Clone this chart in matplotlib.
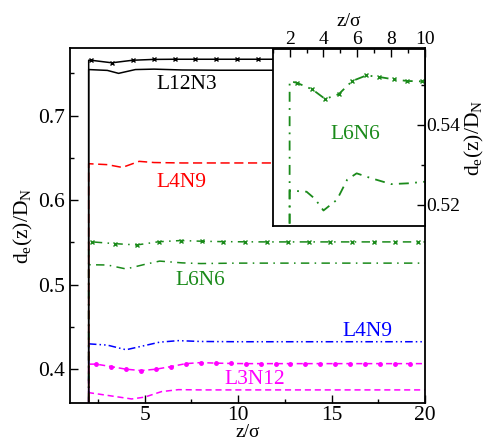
import matplotlib
matplotlib.use("Agg")
import matplotlib.pyplot as plt
from matplotlib.ticker import MultipleLocator

plt.rcParams['font.family'] = ['Liberation Serif', 'DejaVu Serif']
plt.rcParams['mathtext.fontset'] = 'custom'
plt.rcParams['mathtext.rm'] = 'Liberation Serif'

# L12N3 (black): crossed curve and plain curve
z_l12_x = [2.0, 2.0, 2.13, 3.24, 4.35, 5.48, 6.6, 7.7, 8.8, 9.95, 11.05, 12.2, 14.0, 16.0, 18.0, 20.0]
d_l12_x = [0.0, 0.7655, 0.7655, 0.7625, 0.7655, 0.7665, 0.7667, 0.7667, 0.7667, 0.7667, 0.7667,
           0.7667, 0.7667, 0.7667, 0.7667, 0.7667]
z_l12 = [2.0, 2.0, 3.0, 3.6, 4.5, 5.5, 7.0, 9.0, 12.0, 20.0]
d_l12 = [0.0, 0.7545, 0.7535, 0.7500, 0.7545, 0.7550, 0.7540, 0.7537, 0.7537, 0.7537]

# L4N9 (red, dashed)
z_l4r = [2.0, 2.0, 3.0, 3.8, 4.7, 5.5, 7.0, 9.0, 12.0, 15.0, 20.0]
d_l4r = [0.0, 0.6431, 0.6420, 0.6387, 0.6459, 0.6445, 0.6440, 0.6440, 0.6440, 0.6440, 0.6440]

# L6N6 (green): crossed and plain dash-dot
z_l6_x = [2.0, 2.0, 2.2, 3.42, 4.58, 5.75, 6.92, 8.05, 9.2, 10.36, 11.52, 12.65, 13.78, 14.93,
          16.1, 17.25, 18.38, 19.63, 20.0]
d_l6_x = [0.0, 0.5506, 0.5506, 0.5485, 0.5470, 0.5508, 0.5522, 0.5514, 0.5509, 0.5507, 0.5506,
          0.5506, 0.5506, 0.5506, 0.5506, 0.5506, 0.5506, 0.5506, 0.5506]
z_l6 = [2.0, 2.0, 3.0, 4.0, 5.0, 5.8, 7.0, 8.0, 10.0, 12.0, 14.0, 16.0, 18.0, 20.0]
d_l6 = [0.0, 0.5236, 0.5233, 0.5186, 0.5240, 0.5279, 0.5258, 0.5250, 0.5255, 0.5255, 0.5255,
        0.5255, 0.5255, 0.5255]

# L4N9 (blue, dash-dot-dot)
z_l4b = [2.0, 2.0, 3.0, 4.0, 5.0, 5.8, 6.8, 8.0, 10.0, 12.0, 14.0, 16.0, 18.0, 20.0]
d_l4b = [0.0, 0.4300, 0.4285, 0.4230, 0.4280, 0.4320, 0.4338, 0.4328, 0.4325, 0.4325, 0.4325,
         0.4325, 0.4325, 0.4325]

# L3N12 (magenta): dotted-marker curve and plain dashed
z_l3_o = [2.0, 2.0, 2.4, 3.2, 4.0, 4.8, 5.6, 6.4, 7.2, 8.0, 8.8, 9.6, 10.4, 11.2, 12.0, 12.8,
          13.6, 14.4, 15.2, 16.0, 16.8, 17.6, 18.4, 19.2, 20.0]
d_l3_o = [0.0, 0.4060, 0.4060, 0.4031, 0.4000, 0.3984, 0.4000, 0.4031, 0.4066, 0.4078, 0.4072,
          0.4068, 0.4066, 0.4066, 0.4066, 0.4066, 0.4066, 0.4066, 0.4066, 0.4066, 0.4066,
          0.4066, 0.4066, 0.4066, 0.4066]
z_l3 = [2.0, 2.0, 3.2, 4.3, 5.0, 5.9, 6.8, 8.0, 10.0, 12.0, 14.0, 16.0, 18.0, 20.0]
d_l3 = [0.0, 0.3723, 0.3684, 0.3648, 0.3670, 0.3735, 0.3758, 0.3755, 0.3755, 0.3755, 0.3755,
        0.3755, 0.3755, 0.3755]

# zoomed L6N6 curves for the inset
z_in_x = [2.0, 2.0, 2.45, 3.34, 4.1, 4.9, 5.7, 6.54, 7.3, 8.16, 8.96, 9.85, 10.0]
d_in_x = [0.0, 0.5510, 0.5505, 0.5489, 0.5465, 0.5477, 0.5510, 0.5524, 0.5520, 0.5514, 0.5510,
          0.5509, 0.5509]
z_in = [2.0, 2.0, 3.0, 3.5, 4.0, 4.8, 5.4, 5.96, 6.8, 8.0, 9.0, 10.0]
d_in = [0.0, 0.5236, 0.5233, 0.5215, 0.5186, 0.5213, 0.5263, 0.5279, 0.5267, 0.5252, 0.5254,
        0.5258]

green = '#1a8a1a'
magenta = '#ff00ff'
lw = 1.1
dashdot = (5.5, 3.5, 1, 3.5)
fs = 15.5
ylab = r'd$_\mathrm{e}$(z)/D$_\mathrm{N}$'

fig = plt.figure(figsize=(4.95, 4.42), dpi=100)
ax = fig.add_axes([0.1414, 0.0882, 0.7172, 0.8032])

ax.plot(z_l3, d_l3, color=magenta, lw=lw, dashes=(4, 2.5))
ax.plot(z_l3_o, d_l3_o, color=magenta, lw=lw, dashes=(4, 2.5), marker='o', ms=2.5,
        markevery=slice(2, -1))
ax.plot(z_l4b, d_l4b, color='blue', lw=lw, dashes=(5, 2, 1, 2, 1, 2))
ax.plot(z_l6, d_l6, color=green, lw=lw, dashes=dashdot)
ax.plot(z_l6_x, d_l6_x, color=green, lw=lw, dashes=dashdot, marker='x', ms=3.5,
        markevery=slice(2, -1))
ax.plot(z_l4r, d_l4r, color='red', lw=lw, dashes=(6, 3))
ax.plot(z_l12, d_l12, color='black', lw=lw)
ax.plot(z_l12_x, d_l12_x, color='black', lw=lw, marker='x', ms=3.5, markevery=slice(2, None))

ax.text(7.26, 0.737, 'L12N3', color='black', fontsize=fs, ha='center', va='center')
ax.text(6.94, 0.621, 'L4N9', color='red', fontsize=fs, ha='center', va='center')
ax.text(8.0, 0.5045, 'L6N6', color=green, fontsize=fs, ha='center', va='center')
ax.text(16.9, 0.4446, 'L4N9', color='blue', fontsize=fs, ha='center', va='center')
ax.text(10.9, 0.388, 'L3N12', color=magenta, fontsize=fs, ha='center', va='center')

ax.set_xlim(1, 20)
ax.set_ylim(0.36, 0.78)
ax.xaxis.set_major_locator(MultipleLocator(5))
ax.xaxis.set_minor_locator(MultipleLocator(2.5))
ax.yaxis.set_major_locator(MultipleLocator(0.1))
ax.yaxis.set_minor_locator(MultipleLocator(0.05))
ax.tick_params(which='both', direction='in', top=False, right=False, labelsize=fs, width=1)
ax.tick_params(axis='x', pad=2)
ax.tick_params(which='major', length=6)
ax.tick_params(which='minor', length=3)
for s in ax.spines.values():
    s.set_linewidth(1.3)
ax.set_xlabel('z/σ', fontsize=14, labelpad=-0.5)
ax.set_ylabel(ylab, fontsize=fs, labelpad=2)

# inset with the L6N6 curves
ins = fig.add_axes([0.5509, 0.4894, 0.3077, 0.3997])
ins.plot(z_in, d_in, color=green, lw=1.3, dashes=dashdot)
ins.plot(z_in_x, d_in_x, color=green, lw=1.3, dashes=dashdot, marker='x', ms=3.5,
         markevery=slice(2, -1))
ins.text(5.88, 0.5375, 'L6N6', color=green, fontsize=fs, ha='center', va='center')
ins.set_xlim(1, 10)
ins.set_ylim(0.5148, 0.559)
ins.xaxis.set_major_locator(MultipleLocator(2))
ins.xaxis.set_minor_locator(MultipleLocator(1))
ins.yaxis.set_major_locator(MultipleLocator(0.02))
ins.yaxis.set_minor_locator(MultipleLocator(0.01))
ins.tick_params(which='both', direction='in', top=True, bottom=False, labeltop=True,
                labelbottom=False, right=True, left=False, labelright=True, labelleft=False,
                labelsize=14, width=1, pad=1)
ins.tick_params(which='major', length=6)
ins.tick_params(which='minor', length=3)
for s in ins.spines.values():
    s.set_linewidth(1.3)
ins.xaxis.set_label_position('top')
ins.yaxis.set_label_position('right')
ins.set_xlabel('z/σ', fontsize=14, labelpad=3)
ins.set_ylabel(ylab, fontsize=fs, labelpad=2)

fig.savefig('out.png', dpi=100)
